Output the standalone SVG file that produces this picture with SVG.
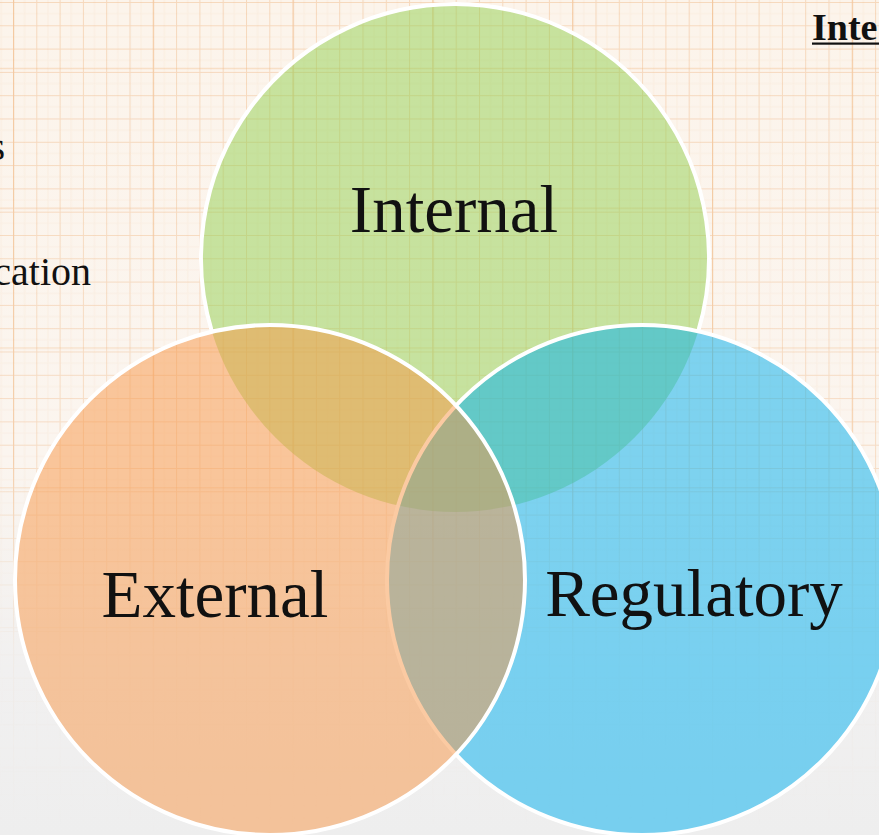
<svg xmlns="http://www.w3.org/2000/svg" width="879" height="835" viewBox="0 0 879 835">
  <defs>
    <style>
      .label { font-family: "Liberation Serif", "Times New Roman", serif; font-size: 67px; fill: #111; text-anchor: middle; }
      .side { font-family: "Liberation Serif", "Times New Roman", serif; font-size: 40px; fill: #111; }
      .ring { stroke: #ffffff; stroke-width: 4; }
    </style>
    <!-- paper background: cream at the top turning to soft grey -->
    <linearGradient id="paper" x1="0" y1="0" x2="0" y2="1">
      <stop offset="0" stop-color="#fcf4eb"/>
      <stop offset="0.55" stop-color="#fbf5ef"/>
      <stop offset="0.8" stop-color="#f1f0f0"/>
      <stop offset="1" stop-color="#eeeeee"/>
    </linearGradient>
    <!-- grid lines fade out towards the bottom -->
    <linearGradient id="gridFade" x1="0" y1="0" x2="0" y2="1">
      <stop offset="0" stop-color="#fff" stop-opacity="1"/>
      <stop offset="0.55" stop-color="#fff" stop-opacity="0.85"/>
      <stop offset="0.78" stop-color="#fff" stop-opacity="0.1"/>
      <stop offset="1" stop-color="#fff" stop-opacity="0"/>
    </linearGradient>
    <mask id="gridMask">
      <rect width="879" height="835" fill="url(#gridFade)"/>
    </mask>
    <filter id="soft" x="0" y="0" width="1" height="1">
      <feGaussianBlur stdDeviation="0.7"/>
    </filter>
    <pattern id="grid" width="23.3" height="23.3" patternUnits="userSpaceOnUse" x="13" y="2">
      <path d="M11.6,0 V23.3 M0,11.6 H23.3" stroke="#f3cfae" stroke-width="1" opacity="0.18" fill="none"/>
      <path d="M0,0 V23.3 M0,0 H23.3" stroke="#f0b684" stroke-width="2" opacity="0.45" fill="none"/>
    </pattern>
    <pattern id="gridMajor" width="139.8" height="139.8" patternUnits="userSpaceOnUse" x="13" y="-72">
      <path d="M0,0 V139.8 M0,0 H139.8" stroke="#f0aa6c" stroke-width="2.5" opacity="0.35" fill="none"/>
    </pattern>
  </defs>

  <!-- background -->
  <rect width="879" height="835" fill="url(#paper)"/>
  <g mask="url(#gridMask)" filter="url(#soft)">
    <rect width="879" height="835" fill="url(#grid)"/>
    <rect width="879" height="835" fill="url(#gridMajor)"/>
  </g>

  <!-- side text running off the slide edges -->
  <text class="side" x="5" y="160" text-anchor="end">s</text>
  <text class="side" x="91" y="285" text-anchor="end">cation</text>
  <g id="heading">
    <text x="812" y="40" font-family="Liberation Serif, Times New Roman, serif" font-size="38" font-weight="bold" fill="#111">Inte</text>
    <rect x="812" y="42.5" width="67" height="2.2" fill="#111"/>
  </g>

  <!-- Venn circles -->
  <g id="internal">
    <circle cx="455" cy="258" r="254" fill="#92d050" fill-opacity="0.5"/>
    <path class="ring" d="M212,332 A254,254 0 1 1 698.2,331.3" fill="none"/>
    <text class="label" x="454" y="232">Internal</text>
  </g>
  <g id="regulatory">
    <circle class="ring" cx="642" cy="580" r="255" fill="#00b0f0" fill-opacity="0.5"/>
    <text class="label" x="694" y="616">Regulatory</text>
  </g>
  <g id="external">
    <circle class="ring" cx="270" cy="580" r="255" fill="#f79646" fill-opacity="0.5"/>
    <text class="label" x="215" y="617">External</text>
  </g>
</svg>
